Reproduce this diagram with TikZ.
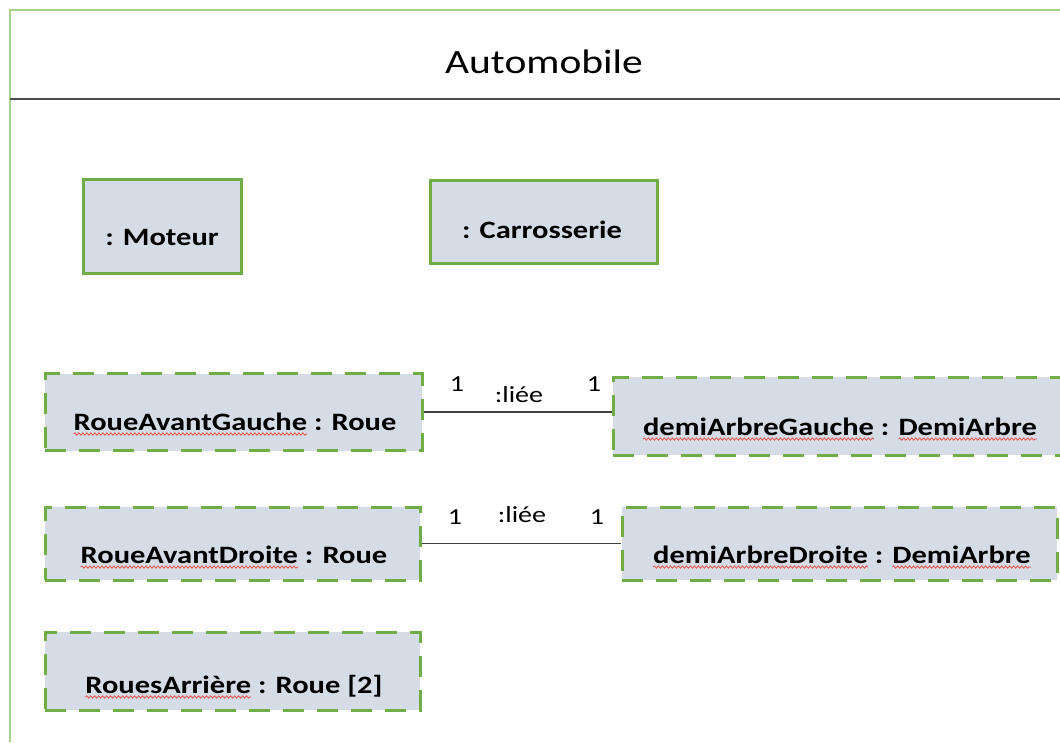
\documentclass[tikz,border=0pt]{standalone}
\usepackage{fontspec}
\setmainfont{Carlito}[FakeStretch=1.22]
\usetikzlibrary{calc,decorations.pathmorphing}
\definecolor{boxfill}{HTML}{D6DCE5}
\definecolor{boxgreen}{HTML}{70AD47}
\definecolor{framegreen}{HTML}{A9D18E}
\definecolor{spellred}{HTML}{E8453C}
\newsavebox\spellbox
\newcommand\spellwave[1]{\sbox\spellbox{#1}\rlap{\tikz[overlay,x=1pt,y=1pt]\draw[spellred,line width=0.7pt,decorate,decoration={snake,amplitude=1.2pt,segment length=4pt}] (0,-4) -- (\the\wd\spellbox,-4);}\usebox\spellbox}
\begin{document}
\begin{tikzpicture}[x=1pt,y=-1pt,
  objbox/.style={draw=boxgreen, line width=3pt, fill=boxfill, inner sep=0pt},
  partbox/.style={objbox, dash pattern=on 21pt off 13pt},
  objtext/.style={font=\bfseries\fontsize{25}{30}\selectfont, anchor=base, inner sep=0pt},
  titletext/.style={font=\fontsize{34}{40}\selectfont, anchor=base, inner sep=0pt},
  mult/.style={font=\fontsize{23}{27}\selectfont, inner sep=0pt},
  link/.style={draw=black!75, line width=1.8pt}]
\useasboundingbox (0,0) rectangle (1060,742);
\fill[white] (0,0) rectangle (1060,742);
% outer frame of the composite
\draw[framegreen, line width=1.5pt] (10,742) -- (10,10) -- (1060,10);
\draw[black!70, line width=2pt] (10,99) -- (1060,99);
\node[titletext] (title) at (544,73) {Automobile};
% simple parts
\node[objbox, minimum width=158pt, minimum height=94pt] (moteur) at (162,226) {};
\node[objtext] (moteurt) at (162,245) {: Moteur};
\node[objbox, minimum width=227pt, minimum height=83pt] (carro) at (543.5,221.5) {};
\node[objtext] (carrot) at (542,238) {: Carrosserie};
% dashed parts
\node[partbox, minimum width=377pt, minimum height=77pt] (rag) at (233.5,412) {};
\node[objtext] (ragt) at (235,430) {\spellwave{RoueAvantGauche} : Roue};
\node[partbox, minimum width=462pt, minimum height=78pt] (dag) at (844,416) {};
\node[objtext] (dagt) at (840,435) {\spellwave{demiArbreGauche} : \spellwave{DemiArbre}};
\node[partbox, minimum width=375pt, minimum height=73pt] (rad) at (232.5,543.5) {};
\node[objtext] (radt) at (234,563) {\spellwave{RoueAvantDroite} : Roue};
\node[partbox, minimum width=435pt, minimum height=73pt] (dad) at (839.5,543.5) {};
\node[objtext] (dadt) at (842,563) {\spellwave{demiArbreDroite} : \spellwave{DemiArbre}};
\node[partbox, minimum width=375pt, minimum height=78pt] (ra) at (232.5,671) {};
\node[objtext] (rat) at (234,693) {\spellwave{RouesArrière} : Roue [2]};
% connectors
\draw[link] (rag.east) -- (rag.east -| dag.west);
\draw[link] (rad.east) -- (rad.east -| dad.west);
% labels
\node[mult] (m1a) at (457,384) {1};
\node[mult] (l1) at (519,395) {:liée};
\node[mult] (m1b) at (594,384) {1};
\node[mult] (m2a) at (455,517) {1};
\node[mult] (l2) at (522,515) {:liée};
\node[mult] (m2b) at (597,517) {1};
\end{tikzpicture}
\end{document}
